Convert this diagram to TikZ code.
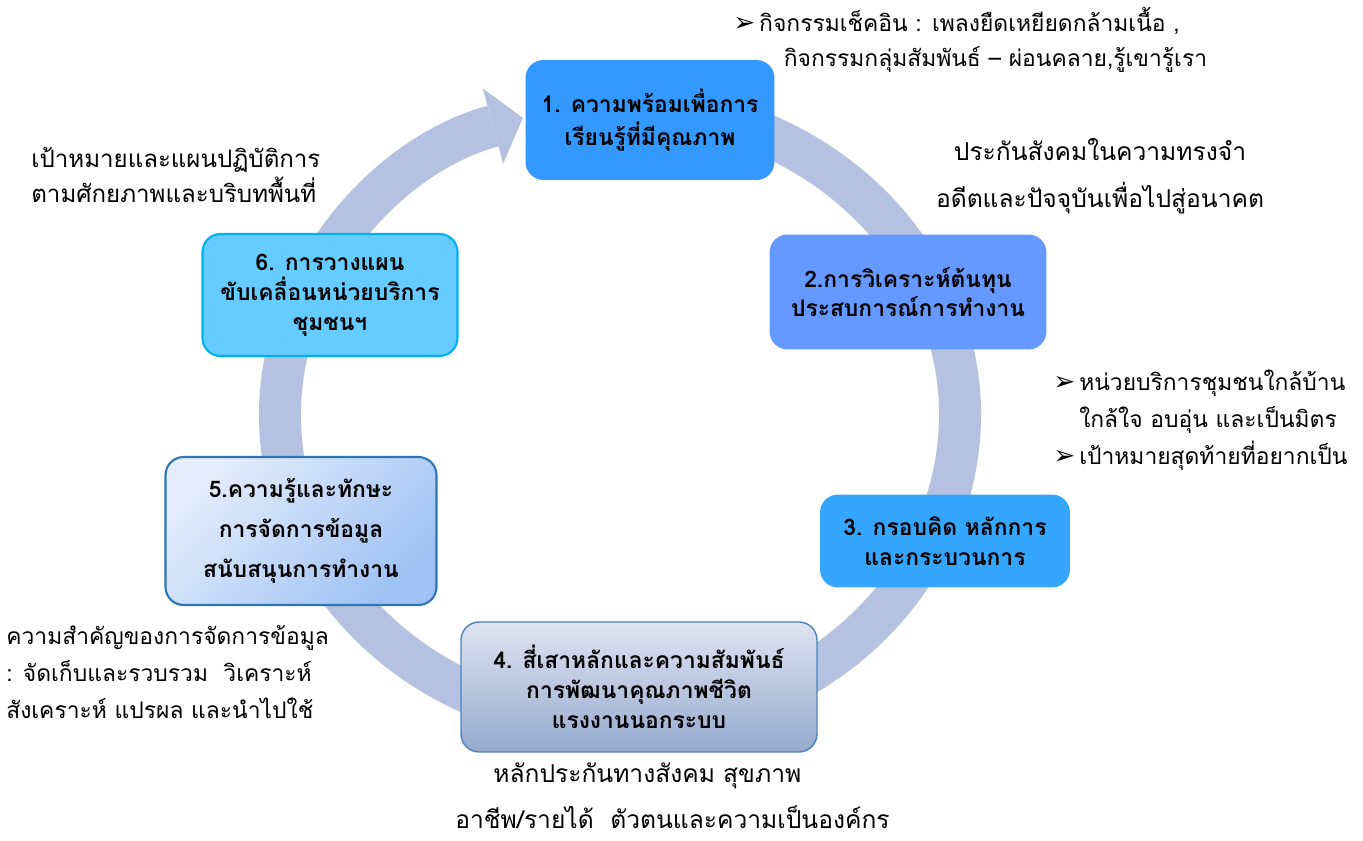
\documentclass[tikz,border=0pt]{standalone}
\usepackage{fontspec}
\usetikzlibrary{arrows.meta,calc}
\newfontfamily\thaifont[Script=Thai]{Loma}
\newfontfamily\symfont{DejaVu Sans}
\newcommand{\bul}{{\symfont\fontsize{15}{15}\selectfont ➢}\,}
\definecolor{ringblue}{RGB}{180,193,225}
\definecolor{boxone}{RGB}{51,153,255}
\definecolor{boxtwo}{RGB}{102,153,255}
\definecolor{boxthree}{RGB}{53,166,254}
\definecolor{boxfourtop}{RGB}{222,228,241}
\definecolor{boxfourbot}{RGB}{150,170,206}
\definecolor{boxfourline}{RGB}{79,129,189}
\definecolor{boxfivetop}{RGB}{228,237,251}
\definecolor{boxfivebot}{RGB}{158,194,245}
\definecolor{boxfiveline}{RGB}{46,117,182}
\definecolor{boxsix}{RGB}{102,204,255}
\definecolor{boxsixline}{RGB}{0,176,240}
\begin{document}
\begin{tikzpicture}[x=0.02cm,y=-0.02cm,
    stage/.style={rounded corners=0.36cm,align=center,inner sep=0pt,
      font=\thaifont\bfseries\fontsize{13}{17}\selectfont},
    note/.style={inner sep=0pt,font=\thaifont\fontsize{13}{17}\selectfont},
    bignote/.style={inner sep=0pt,font=\thaifont\fontsize{14}{18}\selectfont}]
  \pgfmathsetmacro{\rx}{340}
  \pgfmathsetmacro{\ry}{310}
  \useasboundingbox (0,0) rectangle (1363,841);
  %
  % ring arrow
  \coordinate (centre) at (620,415);
  \draw[ringblue,line width=0.84cm,-{Triangle[length=0.62cm,width=1.56cm,line width=0pt]}]
    ($(centre)+(-80:{\rx} and {\ry})$) arc[start angle=-80,end angle=253.4,x radius=\rx,y radius=\ry];
  %
  % stages
  \node[stage,fill=boxone,minimum width=4.98cm,minimum height=2.4cm] (ready) at (650,120)
    {1. ความพร้อมเพื่อการ\\[2pt]เรียนรู้ที่มีคุณภาพ};
  \node[stage,fill=boxtwo,minimum width=5.54cm,minimum height=2.3cm] (capital) at (908,292)
    {2.การวิเคราะห์ต้นทุน\\ประสบการณ์การทำงาน};
  \node[stage,fill=boxthree,minimum width=5cm,minimum height=1.86cm] (frame) at (945,541)
    {3. กรอบคิด หลักการ\\และกระบวนการ};
  \node[stage,draw=boxfourline,line width=0.8pt,top color=boxfourtop,bottom color=boxfourbot,
    minimum width=7.12cm,minimum height=2.6cm] (pillars) at (639,687)
    {4. สี่เสาหลักและความสัมพันธ์\\การพัฒนาคุณภาพชีวิต\\แรงงานนอกระบบ};
  \node[stage,draw=boxfiveline,line width=1.2pt,top color=boxfivetop,bottom color=boxfivebot,
    shading angle=45,minimum width=5.42cm,minimum height=2.96cm] (data) at (301,531)
    {5.ความรู้และทักษะ\\[6pt]การจัดการข้อมูล\\[6pt]สนับสนุนการทำงาน};
  \node[stage,draw=boxsixline,line width=1.2pt,fill=boxsix,
    minimum width=5.1cm,minimum height=2.44cm] (plan) at (330,295)
    {6. การวางแผน\\ขับเคลื่อนหน่วยบริการ\\ชุมชนฯ};
  %
  % notes
  \node[note,anchor=west,align=left] (checkin) at (733,40)
    {\bul กิจกรรมเช็คอิน : เพลงยืดเหยียดกล้ามเนื้อ ,\\[3pt]
     \hspace{1.01cm}กิจกรรมกลุ่มสัมพันธ์ – ผ่อนคลาย,รู้เขารู้เรา};
  \node[bignote,align=center] (memory) at (1100,176)
    {ประกันสังคมในความทรงจำ\\[9pt]อดีตและปัจจุบันเพื่อไปสู่อนาคต};
  \node[note,anchor=west,align=left] (unit) at (1053,420)
    {\bul หน่วยบริการชุมชนใกล้บ้าน\\[4pt]
     \phantom{\bul}ใกล้ใจ อบอุ่น และเป็นมิตร\\[4pt]
     \bul เป้าหมายสุดท้ายที่อยากเป็น};
  \node[note,anchor=west,align=left] (datanote) at (6,672)
    {ความสำคัญของการจัดการข้อมูล\\[4pt]: จัดเก็บและรวบรวม\ \ วิเคราะห์\\[4pt]สังเคราะห์ แปรผล และนำไปใช้};
  \node[bignote,anchor=west,align=left] (security) at (455,796)
    {\hspace{0.76cm}หลักประกันทางสังคม สุขภาพ\\[8pt]อาชีพ/รายได้\ \ ตัวตนและความเป็นองค์กร};
  \node[note,anchor=west,align=left,font=\thaifont\fontsize{13.7}{17}\selectfont] (goal) at (31,175)
    {เป้าหมายและแผนปฏิบัติการ\\[2pt]ตามศักยภาพและบริบทพื้นที่};
\end{tikzpicture}
\end{document}
